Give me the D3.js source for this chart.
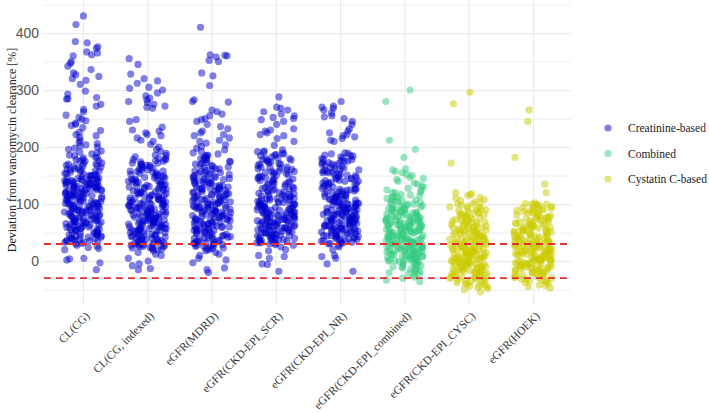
<!DOCTYPE html>
<html>
<head>
<meta charset="utf-8">
<script src="https://cdn.jsdelivr.net/npm/d3@7"></script>
<style>
  body { margin: 0; background: #fff; }
  .grid line { stroke: #ebebeb; }
  .grid .domain { display: none; }
</style>
</head>
<body>
<script>
var categories = ["CL(CG)", "CL(CG, indexed)", "eGFR(MDRD)", "eGFR(CKD-EPI_SCR)",
  "eGFR(CKD-EPI_NR)", "eGFR(CKD-EPI_combined)", "eGFR(CKD-EPI_CYSC)", "eGFR(HOEK)"];
var groups = ["Creatinine-based", "Creatinine-based", "Creatinine-based", "Creatinine-based",
  "Creatinine-based", "Combined", "Cystatin C-based", "Cystatin C-based"];
var legendKeys = ["Creatinine-based", "Combined", "Cystatin C-based"];
var legendColors = ["#0000cd", "#33cc80", "#cccc00"];
var yTicks = [0, 100, 200, 300, 400];
var yMinor = [-50, 50, 150, 250, 350, 450];
var limits = [-30, 30];

// deviation values [%] read per formula
var clCG = [430,415,385,383,376,373,367,365,362,360,350,347,342,336,330,327,324,320,317,310,298,293,287,285,284,275,272,266,262,256,252,249,246,242,240,238,234,229,226,222,220,217,212,208,206,204,202,200,198,196,193,191,188,186,185,182,181,178,176,175,172,171,168,166,165,163,161,160,158,157,154,153,151,150,149,147,146,145,143,142,141,140,139,138,138,136,135,134,133,132,131,129,128,127,125,124,123,121,120,118,117,116,114,113,111,110,108,107,105,104,102,101,100,98,97,96,95,93,92,90,89,88,86,85,83,82,80,79,77,76,74,72,71,70,68,67,66,64,62,60,58,56,55,52,50,48,46,44,42,40,38,36,34,33,31,30,28,26,24,22,20,5,4,2,-3,-15,
  182,175,170,166,160,156,152,148,145,143,141,139,137,135,134,133,131,130,128,126,124,122,120,119,117,115,113,112,110,108,106,104,103,101,99,97,96,94,92,91,89,87,85,84,82,80,78,76,74,72,70,69,67,65,63,61,59,57,55,53,51,49,47,45,43,41,39,37,35,33,162,158,150,144,138,132,127,121,116,109,102,95,88,81,75,68,62,56,50,44,38,170,140,136,129,125,118,111,105,98,93,86,79,73,66,60,54,48,42,36,190,178,168,154,146];
var clCGidx = [355,345,328,320,316,312,305,303,300,295,290,286,283,280,278,275,272,270,268,248,245,235,230,228,225,222,220,216,212,210,205,200,196,192,189,186,185,183,180,178,176,174,172,170,168,166,164,162,160,158,156,154,152,150,148,146,144,142,140,138,136,135,133,131,130,128,126,125,123,121,120,118,116,115,113,112,110,109,108,106,105,104,102,101,100,99,98,97,95,94,93,92,90,89,88,87,85,84,83,82,80,79,78,77,75,74,72,71,70,69,67,66,65,64,62,61,60,58,57,56,55,53,52,50,48,47,45,43,42,40,38,36,35,33,31,30,28,26,25,23,22,20,18,15,12,10,5,0,-5,-8,-13,-15,
  178,172,165,160,155,150,146,141,137,133,129,125,121,118,114,111,107,104,101,98,95,92,89,86,83,80,77,74,71,68,65,62,59,56,53,50,47,44,41,38,35,32,29,26,23,170,163,157,152,147,143,139,134,130,126,122,119,115,110,106,103,99,96,93,90,87,84,81,78,75,72,69,66,63,60,57,54,51,48,46,42,39,36,33,30,27,24,21,180,175,168,158,149,140,131,117,108,100,91,82,73,64,55,45,37,28];
var mdrd = [410,362,361,360,358,352,350,330,325,308,283,280,279,265,262,258,255,250,248,245,240,236,232,228,225,222,220,216,212,210,207,204,201,198,195,192,190,186,184,182,180,177,175,173,170,168,166,164,162,160,158,156,154,152,150,148,146,145,143,141,140,138,137,135,133,132,130,129,127,126,125,123,122,120,119,118,116,115,113,112,110,109,108,106,105,104,102,101,100,99,97,96,95,93,92,91,90,88,87,86,84,83,82,80,79,78,76,75,73,72,71,70,68,67,65,64,62,61,60,58,57,55,54,52,50,48,47,45,43,42,40,38,36,34,32,30,28,26,24,22,20,18,15,12,10,5,2,-3,-12,-15,-20,
  188,180,174,168,162,157,153,149,145,141,138,134,131,128,124,121,117,114,111,107,104,101,98,95,92,89,86,83,80,77,74,71,68,65,62,59,56,53,50,47,44,41,38,35,32,29,26,23,185,171,159,151,143,136,130,125,119,113,108,103,99,94,90,85,81,76,72,67,63,58,54,49,45,40,36,31,27,22,177,165,155,147,139,127,116,106,96,87,78,69,60,51,42,33];
var ckdScr = [288,270,268,265,262,258,255,252,250,248,245,240,232,230,228,225,222,220,215,210,203,195,193,191,189,187,185,183,181,180,177,176,174,171,170,168,165,164,162,160,157,156,154,151,150,148,145,144,141,140,138,135,134,131,130,127,126,123,121,120,117,116,114,112,111,109,108,107,105,104,103,101,100,99,98,96,95,94,93,91,90,89,88,87,85,84,83,82,81,80,78,77,76,75,74,73,71,70,69,68,67,66,64,63,62,61,60,58,57,56,55,54,52,51,50,48,47,45,44,42,41,40,38,36,35,33,32,30,28,25,20,18,10,8,5,-5,-6,-18,
  192,186,180,175,170,165,161,157,153,149,146,142,139,135,132,129,126,122,119,116,113,110,107,104,101,98,95,92,89,86,83,80,77,74,71,68,65,62,59,56,53,50,47,44,41,38,35,32,29,188,172,163,155,147,137,128,118,109,100,94,88,82,76,70,64,58,52,46,40,34,178,158,143,124,114,102,97,91,85,79,73,67,61,55,49,43,37,31,110,99,90,81,72,63,54,45];
var ckdNr = [280,272,270,268,265,260,255,253,250,245,240,232,228,225,222,220,218,215,212,210,190,188,186,185,183,180,178,176,175,173,171,170,168,166,164,162,160,158,156,155,153,151,150,148,146,144,142,140,138,137,135,133,131,130,128,126,125,123,121,120,118,116,115,113,111,110,108,107,105,104,103,101,100,99,97,96,95,93,92,91,90,88,87,86,85,83,82,81,80,78,77,76,75,73,72,71,70,68,67,66,65,63,62,61,60,58,57,56,55,53,52,50,49,47,46,45,43,42,40,38,37,35,33,31,30,28,25,20,10,8,5,-5,-18,
  189,184,178,173,168,163,159,155,151,147,144,140,137,134,130,127,124,121,118,115,112,109,106,103,100,97,94,91,88,85,82,79,76,73,70,67,64,61,58,55,52,49,46,43,40,37,34,31,181,170,160,152,145,136,126,117,108,99,93,87,81,75,69,63,57,51,45,39,33,175,157,141,123,113,102,96,90,84,78,72,66,60,54,48,42,36,111,101,89,80,71,62,53,44];
var combined = [300,280,212,196,182,162,160,157,155,152,150,147,145,143,140,137,135,132,130,128,125,124,121,120,117,116,113,112,110,107,106,103,102,100,98,97,95,93,92,90,88,87,85,84,82,81,80,78,77,76,74,73,72,71,70,68,67,66,65,64,62,61,60,59,58,56,55,54,53,52,50,49,48,47,46,44,43,42,41,40,38,37,36,35,34,32,31,30,29,28,26,25,24,23,22,20,19,18,17,16,14,13,12,11,10,8,7,6,5,4,2,1,0,-2,-4,-6,-8,-10,-12,-15,-18,-20,-22,-25,-28,-30,-33,-36,
  120,112,105,100,96,92,88,85,82,79,76,73,71,69,67,65,63,61,59,57,55,53,51,49,47,45,43,41,39,37,35,33,31,29,27,25,23,21,19,17,15,13,11,9,7,5,3,0,-3,-6,-10,-14,-18,-22,115,104,95,89,83,78,74,70,66,62,58,54,50,46,42,38,34,30,26,22,18,14,10,6,2,-2,-8,-15,108,99,91,84,77,72,68,64,60,56,52,48,44,40,36,32,28,24,20,16,12,8,4,-1];
var ckdCysc = [296,276,172,120,118,117,115,112,110,108,106,104,102,100,98,96,94,92,90,88,86,84,83,81,80,78,76,75,73,72,70,68,67,65,64,62,61,60,58,57,55,54,52,51,50,48,47,46,44,43,42,40,39,38,36,35,34,33,31,30,29,28,27,25,24,23,22,21,20,18,17,16,15,14,13,12,10,9,8,7,6,5,4,2,1,0,-1,-2,-4,-5,-6,-8,-9,-10,-12,-13,-14,-16,-17,-18,-20,-21,-22,-24,-25,-27,-28,-30,-31,-33,-35,-37,-40,-42,-45,-48,-50,-54,
  100,95,90,85,80,75,71,67,63,59,56,53,50,47,44,41,38,35,33,31,29,27,25,23,21,19,17,15,13,11,9,7,5,3,1,-1,-3,-5,-7,-9,-11,-13,-15,-17,-19,-21,-23,-26,-29,-32,-36,-40,-44,92,82,74,66,60,55,51,46,42,37,32,28,24,20,16,12,8,4,0,-4,-8,-12,-16,-20,-24,-28,-34,-42,86,70,58,49,39,30,22,14,6,-2,-10,-18,-27,-38,-46];
var hoek = [265,245,182,135,120,102,100,100,99,98,96,95,93,92,90,88,87,85,84,82,80,79,77,76,74,73,71,70,68,67,66,64,63,62,60,59,58,56,55,54,52,51,50,49,47,46,45,44,42,41,40,39,38,36,35,34,33,32,30,29,28,27,26,25,24,22,21,20,19,18,17,16,15,13,12,11,10,9,8,7,5,4,3,2,1,0,-1,-3,-4,-5,-7,-8,-10,-11,-13,-14,-16,-18,-20,-22,-24,-26,-28,-30,-32,-35,-38,-42,-45,-47,
  101,96,91,86,81,77,73,69,65,61,58,55,52,49,46,43,40,37,35,33,31,29,27,25,23,21,19,17,15,13,11,9,7,5,3,1,-1,-3,-5,-7,-9,-11,-13,-15,-17,-19,-22,-25,-28,-31,-35,-39,-43,94,85,78,71,64,57,51,45,39,34,30,26,22,18,14,10,6,2,-2,-6,-10,-14,-18,-23,-29,-36,89,75,62,53,44,36,28,20,12,4,-4,-12,-21,-33];
var series = [clCG, clCGidx, mdrd, ckdScr, ckdNr, combined, ckdCysc, hoek];

var W = 709, H = 413;
var panel = {left: 44, right: 571, top: 0, bottom: 305};

var svg = d3.select("body").append("svg")
    .attr("width", W)
    .attr("height", H)
    .style("font-family", "'Liberation Serif', 'Times New Roman', serif");

var x = d3.scalePoint().domain(categories).range([83, 533]);
var y = d3.scaleLinear().domain([-77, 458]).range([panel.bottom, panel.top]);
var color = d3.scaleOrdinal().domain(legendKeys).range(legendColors);

// grid
svg.append("g").attr("class", "grid")
    .attr("transform", "translate(" + panel.left + ",0)")
    .call(d3.axisLeft(y).tickValues(yMinor).tickSize(-(panel.right - panel.left)).tickFormat(""))
    .selectAll("line").attr("stroke-width", 0.8);
svg.append("g").attr("class", "grid")
    .attr("transform", "translate(" + panel.left + ",0)")
    .call(d3.axisLeft(y).tickValues(yTicks).tickSize(-(panel.right - panel.left)).tickFormat(""))
    .selectAll("line").attr("stroke-width", 1.2);
svg.append("g").attr("class", "grid")
    .attr("transform", "translate(0," + panel.bottom + ")")
    .call(d3.axisBottom(x).tickSize(-(panel.bottom - panel.top)).tickFormat(""))
    .selectAll("line").attr("stroke-width", 1.2);

// y axis labels
var yAxis = svg.append("g")
    .attr("transform", "translate(" + panel.left + ",0)")
    .call(d3.axisLeft(y).tickValues(yTicks).tickSize(0).tickPadding(5));
yAxis.select(".domain").remove();
yAxis.selectAll("text")
    .attr("fill", "#555")
    .style("font-family", "'Liberation Sans', Arial, sans-serif")
    .style("font-size", "14px");

// x axis labels
var xAxis = svg.append("g")
    .attr("transform", "translate(0," + panel.bottom + ")")
    .call(d3.axisBottom(x).tickSize(0));
xAxis.select(".domain").remove();
xAxis.selectAll("text")
    .attr("y", 0)
    .attr("dy", "0.35em")
    .attr("text-anchor", "end")
    .attr("transform", "translate(4,9) rotate(-45)")
    .attr("fill", "#333")
    .style("font-family", "'Liberation Serif', serif")
    .style("font-size", "11.5px");

// jittered points (fixed seed so the layout is stable)
var jitter = d3.randomUniform.source(d3.randomLcg(0.271))(-19, 19);
series.forEach(function(vals, i) {
  svg.append("g")
    .selectAll("circle")
    .data(vals)
    .enter().append("circle")
      .attr("cx", function() { return x(categories[i]) + jitter(); })
      .attr("cy", function(d) { return y(d); })
      .attr("r", 3.6)
      .attr("fill", color(groups[i]))
      .attr("fill-opacity", 0.5);
});

// tolerance lines
svg.append("g").selectAll("line")
    .data(limits)
    .enter().append("line")
      .attr("x1", panel.left).attr("x2", panel.right)
      .attr("y1", function(d) { return y(d); })
      .attr("y2", function(d) { return y(d); })
      .attr("stroke", "#e03030")
      .attr("stroke-width", 1.8)
      .attr("stroke-dasharray", "7,5");

// y title
svg.append("text")
    .attr("transform", "translate(12,150) rotate(-90)")
    .attr("text-anchor", "middle")
    .attr("dy", "0.35em")
    .style("font-size", "12px")
    .attr("fill", "#222")
    .text("Deviation from vancomycin clearance [%]");

// legend
var legend = svg.append("g").selectAll("g")
    .data(legendKeys)
    .enter().append("g")
      .attr("transform", function(d, i) { return "translate(608," + (128 + i * 25.5) + ")"; });
legend.append("circle")
    .attr("r", 3.6)
    .attr("fill", function(d) { return color(d); })
    .attr("fill-opacity", 0.5);
legend.append("text")
    .attr("x", 20)
    .attr("dy", "0.35em")
    .style("font-size", "11.5px")
    .attr("fill", "#222")
    .text(function(d) { return d; });
</script>
</body>
</html>
